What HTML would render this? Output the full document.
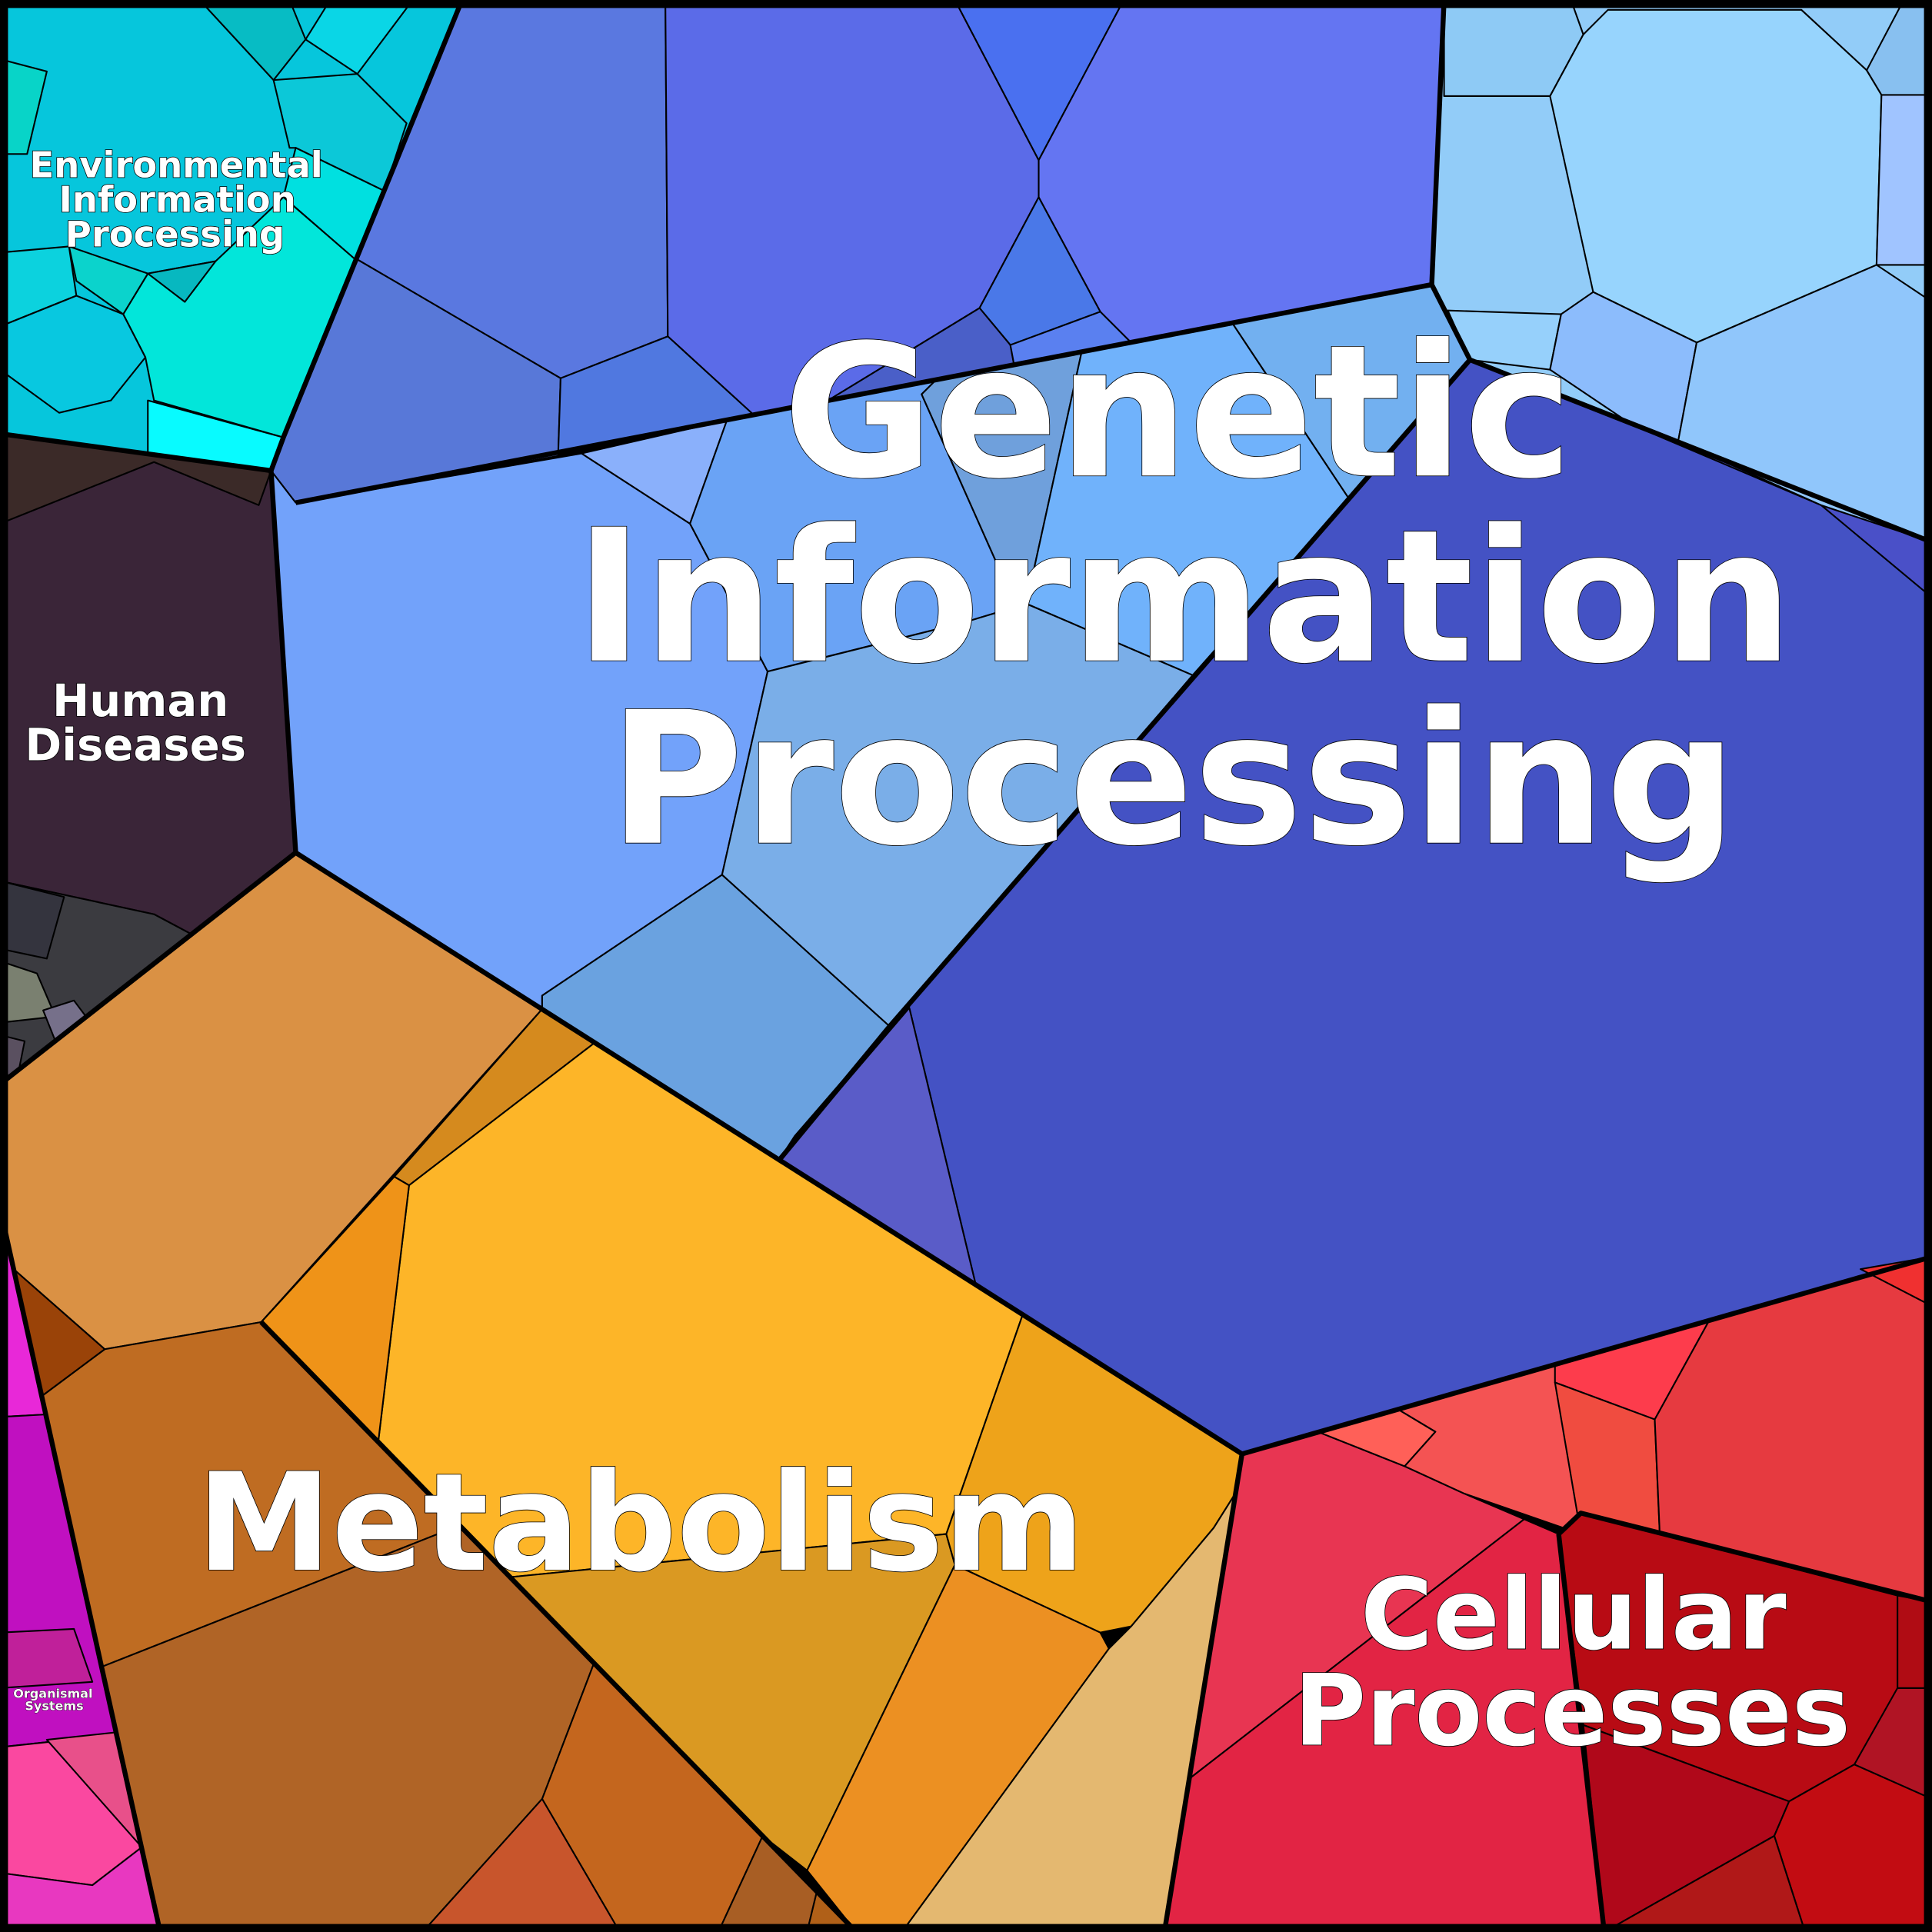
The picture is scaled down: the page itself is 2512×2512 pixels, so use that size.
<!DOCTYPE html>
<html><head><meta charset="utf-8"><style>html,body{margin:0;padding:0;background:#000}svg{display:block}</style></head><body>
<svg xmlns="http://www.w3.org/2000/svg" width="2512" height="2512" viewBox="0 0 1568 1568">
<g stroke="#000" stroke-width="1.3" stroke-linejoin="round">
<!-- Environmental -->
<polygon fill="#06c6dc" points="0,0 375,0 312,155 290,212 230,355 220,382 0,352"/>
<polygon fill="#07bcc4" points="162,0 235,0 248,32 222,65"/>
<polygon fill="#0ad6e6" points="248,32 268,0 335,0 290,60"/>
<polygon fill="#08d4c8" points="0,48 38,58 22,125 0,125"/>
<polygon fill="#0cc8d8" points="222,65 290,60 330,100 312,155 240,120 235,120"/>
<polygon fill="#00e0e0" points="290,212 312,155 240,120 230,160"/>
<polygon fill="#02e6da" points="100,255 120,222 175,212 230,160 290,212 230,355 125,325 118,290"/>
<polygon fill="#08fbff" points="120,325 230,355 220,382 120,370"/>
<polygon fill="#0bd3cc" points="56,200 120,222 100,255 62,228"/>
<polygon fill="#0cd2de" points="0,205 56,200 62,240 0,265"/>
<polygon fill="#08c8e0" points="100,255 118,290 90,325 48,335 0,300 0,265 62,240"/>
<polygon fill="#07b8c0" points="120,222 175,212 150,245"/>
<!-- Human diseases -->
<polygon fill="#3a2538" points="0,352 220,382 240,692 155,758 125,742 0,715"/>
<polygon fill="#3b2a28" points="0,352 220,382 210,410 125,375 0,425"/>
<polygon fill="#3b3b40" points="0,715 125,742 155,758 0,880"/>
<polygon fill="#34343e" points="0,715 52,728 38,778 0,770"/>
<polygon fill="#7a8070" points="0,780 30,790 45,825 0,830"/>
<polygon fill="#76708a" points="35,820 60,812 72,828 45,845"/>
<polygon fill="#5a5060" points="0,840 20,845 15,870 0,875"/>
<!-- Genetic -->
<polygon fill="#5a78e0" points="375,0 540,0 542,273 455,307 289,210"/>
<polygon fill="#5878d8" points="289,210 455,307 453,370 240,408 220,382 230,355"/>
<polygon fill="#5b6be8" points="540,0 775,0 843,130 843,160 795,250 672,325 612,337 542,273"/>
<polygon fill="#4a70f0" points="775,0 912,0 843,130"/>
<polygon fill="#6475f2" points="912,0 1172,0 1162,231 918,278 893,253 843,160 843,130"/>
<polygon fill="#4a78e8" points="843,160 893,253 820,280 795,250"/>
<polygon fill="#5078e0" points="455,307 542,273 612,337 453,369"/>
<polygon fill="#4a5fc8" points="795,250 820,280 823,296 672,325"/>
<polygon fill="#5a80f0" points="820,280 893,253 918,278 823,296"/>
<polygon fill="#72a2fa" points="220,382 240,408 472,368 560,425 623,545 586,710 440,808 440,819 240,692"/>
<polygon fill="#8ab0fb" points="472,368 590,341 560,425"/>
<polygon fill="#6aa3f5" points="590,341 760,308 748,320 808,455 833,490 783,505 623,545 560,425"/>
<polygon fill="#6fa0dc" points="748,320 760,308 878,285 833,490 808,455"/>
<polygon fill="#70b2fb" points="878,285 1000,262 1095,405 968,548 833,490"/>
<polygon fill="#72b0f0" points="1000,262 1162,231 1193,292 1095,405"/>
<polygon fill="#7aaee8" points="623,545 783,505 833,490 968,548 855,680 722,833 586,710"/>
<polygon fill="#6aa2e0" points="440,808 586,710 722,833 645,922 632,942 440,819"/>
<polygon fill="#4452c4" points="1095,405 1193,292 1568,440 1568,1020 1008,1180 792,1043 738,818 722,833 855,680 968,548"/>
<polygon fill="#5a5cc8" points="632,942 738,818 792,1043"/>
<polygon fill="#4a50c8" points="1325,345 1478,410 1568,485 1568,440 1193,292"/>
<!-- Top right light blue -->
<polygon fill="#92ccf8" points="1172,0 1568,0 1568,440 1193,292 1162,231"/>
<polygon fill="#8ecaf5" points="1172,0 1275,0 1285,28 1258,78 1172,78"/>
<polygon fill="#97d4fd" points="1258,78 1285,28 1305,8 1462,8 1515,57 1527,77 1523,215 1377,278 1293,237"/>
<polygon fill="#96d0fb" points="1175,252 1267,255 1258,300 1193,292"/>
<polygon fill="#8cbcfc" points="1267,255 1293,237 1377,278 1362,358 1325,345 1258,300"/>
<polygon fill="#90c6fb" points="1377,278 1523,215 1568,245 1568,440 1478,410 1362,358"/>
<polygon fill="#a0c4ff" points="1527,77 1568,77 1568,215 1523,215"/>
<polygon fill="#88c0f0" points="1515,57 1545,0 1568,0 1568,77 1527,77"/>
<!-- Metabolism -->
<polygon fill="#da9144" points="0,880 240,692 440,819 212,1073 85,1095 11,1030 0,980"/>
<polygon fill="#d58a1e" points="440,819 483,846 332,962 320,955"/>
<polygon fill="#fdb528" points="483,846 830,1067 768,1245 414,1280 360,1225 307,1170 332,962"/>
<polygon fill="#ef9318" points="212,1073 320,955 332,962 307,1170"/>
<polygon fill="#bf6c22" points="34,1133 85,1095 212,1073 373,1238 82,1353"/>
<polygon fill="#9a4308" points="11,1030 85,1095 34,1133 17,1055"/>
<polygon fill="#b06426" points="82,1353 373,1238 414,1280 482,1350 440,1460 343,1568 130,1568"/>
<polygon fill="#c4661e" points="482,1350 619,1490 583,1568 503,1568 440,1460"/>
<polygon fill="#c8552c" points="440,1460 503,1568 343,1568"/>
<polygon fill="#a85e24" points="619,1490 663,1535 655,1568 583,1568"/>
<polygon fill="#b06018" points="663,1535 695,1568 655,1568"/>
<polygon fill="#da9922" points="414,1280 768,1245 775,1270 655,1518 619,1490 482,1350"/>
<polygon fill="#eea31a" points="830,1067 1008,1180 1002,1213 985,1240 918,1320 893,1325 775,1270 768,1245"/>
<polygon fill="#ec9022" points="775,1270 893,1325 900,1338 732,1568 695,1568 655,1518"/>
<polygon fill="#e4b870" points="900,1338 918,1320 985,1240 1002,1213 945,1568 732,1568"/>
<!-- Organismal -->
<polygon fill="#c012c2" points="0,980 130,1568 0,1568"/>
<polygon fill="#e828d8" points="0,980 37,1148 0,1150"/>
<polygon fill="#c010c0" points="0,1150 37,1148 94,1408 0,1418"/>
<polygon fill="#c0209a" points="0,1325 60,1322 75,1365 0,1370"/>
<polygon fill="#fa48a0" points="0,1418 94,1408 114,1500 75,1530 0,1520"/>
<polygon fill="#e8508a" points="38,1412 94,1406 114,1498"/>
<polygon fill="#e838c0" points="0,1520 75,1530 114,1500 130,1568 0,1568"/>
<!-- Cellular -->
<polygon fill="#e83552" points="1008,1180 1072,1163 1140,1190 1188,1212 1237,1233 966,1443"/>
<polygon fill="#e22444" points="966,1443 1237,1233 1265,1245 1302,1568 945,1568"/>
<polygon fill="#ff6058" points="1072,1163 1135,1144 1165,1162 1140,1190"/>
<polygon fill="#f45353" points="1135,1144 1262,1107 1283,1245 1188,1212 1140,1190 1165,1162"/>
<polygon fill="#fd3c4c" points="1262,1107 1387,1072 1343,1152 1262,1122"/>
<polygon fill="#f04c40" points="1262,1122 1343,1152 1347,1244 1283,1245"/>
<polygon fill="#e63a40" points="1387,1072 1568,1020 1568,1300 1347,1244 1343,1152"/>
<polygon fill="#f03030" points="1510,1030 1568,1020 1568,1060"/>
<polygon fill="#b80b14" points="1265,1245 1283,1228 1540,1295 1540,1410 1505,1432 1452,1462 1285,1400"/>
<polygon fill="#b0081a" points="1285,1400 1452,1462 1440,1490 1302,1568"/>
<polygon fill="#c20c12" points="1440,1490 1452,1462 1505,1432 1568,1460 1568,1568 1465,1568"/>
<polygon fill="#b01818" points="1302,1568 1440,1490 1465,1568"/>
<polygon fill="#b01424" points="1505,1432 1540,1370 1568,1370 1568,1460"/>
<polygon fill="#b00c14" points="1540,1295 1568,1300 1568,1370 1540,1370"/>
</g>
<g fill="none" stroke="#000" stroke-width="4" stroke-linejoin="round">
<polyline points="375,0 230,355 220,382 0,352"/>
<polyline points="220,382 240,692 0,880"/>
<polyline points="240,692 1008,1180 1568,1020"/>
<polyline points="1008,1180 945,1568"/>
<polyline points="0,980 130,1568"/>
<polyline points="1172,0 1162,231 1193,292 1568,440"/>
<polyline points="1162,231 240,408"/>
<polyline points="1193,292 722,833 632,942"/>
<polyline points="212,1073 695,1568"/>
<polyline points="1265,1245 1283,1228 1568,1300"/>
<polyline points="1265,1245 1302,1568"/>
</g>
<rect x="3" y="3" width="1562" height="1562" fill="none" stroke="#000" stroke-width="7"/>
<g font-family="DejaVu Sans, Liberation Sans, sans-serif" font-weight="bold" fill="#fff" stroke="#000" stroke-width="1" paint-order="stroke" text-anchor="middle">
<text x="956" y="386" font-size="149">Genetic</text>
<text x="961" y="536" font-size="149">Information</text>
<text x="952" y="684" font-size="149">Processing</text>
<text x="520" y="1274" font-size="110">Metabolism</text>
<text x="1277" y="1338" font-size="80">Cellular</text>
<text x="1276" y="1416" font-size="80">Processes</text>
<text x="114" y="581" font-size="36">Human</text>
<text x="110" y="617" font-size="36">Diseases</text>
<text x="143" y="144" font-size="29">Environmental</text>
<text x="144" y="172" font-size="29">Information</text>
<text x="142" y="200" font-size="29">Processing</text>
<text x="43" y="1378" font-size="10" stroke-width="0.5">Organismal</text>
<text x="44" y="1388" font-size="10" stroke-width="0.5">Systems</text>
</g>
</svg>
</body></html>
